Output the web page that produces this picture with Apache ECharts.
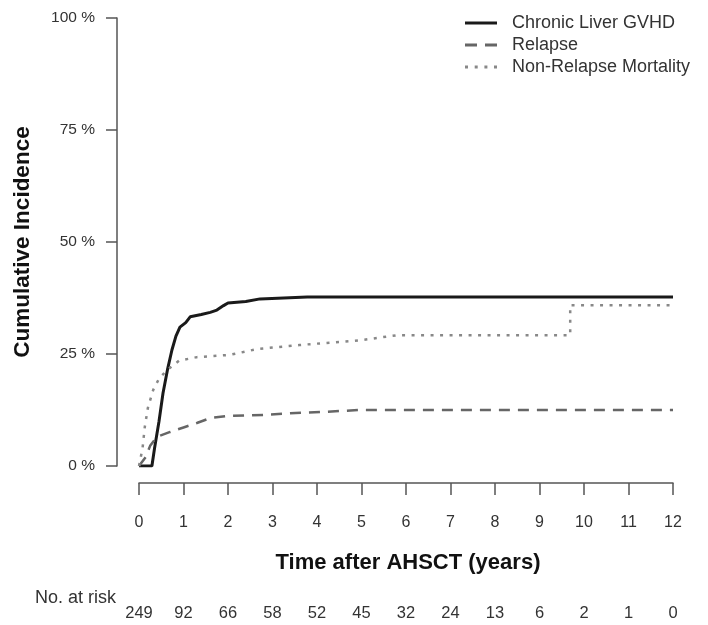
<!DOCTYPE html>
<html>
<head>
<meta charset="utf-8">
<script src="https://cdn.jsdelivr.net/npm/echarts@6/dist/echarts.min.js"></script>
<style>
  html, body { margin: 0; padding: 0; background: #fff; }
  #main { width: 708px; height: 625px; }
</style>
</head>
<body>
<div id="main"></div>
<script>
// 数据部分 (years, percent)
var gvhdTime = [0, 0.29, 0.35, 0.45, 0.54, 0.64, 0.74, 0.83, 0.92, 1.05, 1.15, 1.4, 1.6, 1.75, 1.9, 2.0, 2.4, 2.72, 3.78, 12];
var gvhdPct  = [0, 0, 4, 10, 16.3, 21.5, 25.9, 29, 31, 32, 33.3, 33.8, 34.3, 34.8, 35.8, 36.4, 36.7, 37.3, 37.7, 37.7];

var relapseTime = [0, 0.15, 0.25, 0.4, 0.7, 1.0, 1.3, 1.6, 2.04, 2.8, 3.4, 4.2, 4.97, 12];
var relapsePct  = [0, 2, 4.5, 6.5, 7.6, 8.6, 9.6, 10.7, 11.2, 11.4, 11.8, 12.1, 12.5, 12.5];

var nrmTime = [0, 0.08, 0.13, 0.2, 0.32, 0.45, 0.63, 0.9, 1.3, 2.04, 2.65, 3.6, 5.0, 5.8, 9.69, 9.69, 12];
var nrmPct  = [0, 4, 8.7, 13, 17, 19.5, 21.4, 23.5, 24.3, 24.8, 26.1, 27, 28.1, 29.2, 29.2, 35.9, 35.9];

var atRisk = [249, 92, 66, 58, 52, 45, 32, 24, 13, 6, 2, 1, 0];
var yTicks = [0, 25, 50, 75, 100];

function pairs(xs, ys) {
	var out = [];
	for (var i = 0; i < xs.length; i++) {
		out.push([xs[i], ys[i]]);
	}
	return out;
}

var font = 'Liberation Sans, Arial, sans-serif';
var axisColor = '#555';

var myChart = echarts.init(document.getElementById('main'));
var option = {
	animation : false,
	textStyle : { fontFamily : font },
	grid : { left : 139, right : 35, top : 18, bottom : 159 },
	legend : {
		orient : 'vertical',
		left : 460,
		top : 9,
		itemWidth : 32,
		itemHeight : 3,
		itemGap : 4,
		textStyle : { fontSize : 18, lineHeight : 18, color : '#333', fontFamily : font, padding : [0, 0, 0, 10] },
		data : [
			{ name : 'Chronic Liver GVHD', icon : 'rect' },
			{ name : 'Relapse', icon : 'path://M0,0h12v3h-12z M20,0h12v3h-12z' },
			{ name : 'Non-Relapse Mortality', icon : 'path://M0,0h3v3h-3z M9.7,0h3v3h-3z M19.4,0h3v3h-3z M29,0h3v3h-3z' }
		]
	},
	xAxis : [
		{
			type : 'value',
			min : 0,
			max : 12,
			interval : 1,
			position : 'bottom',
			offset : 17,
			axisLine : { onZero : false, lineStyle : { color : axisColor, width : 1.5 } },
			axisTick : { length : 12, lineStyle : { color : axisColor, width : 1.5 } },
			axisLabel : { fontSize : 16, color : '#333', margin : 32 },
			splitLine : { show : false }
		},
		{
			type : 'value',
			min : 0,
			max : 12,
			interval : 1,
			position : 'bottom',
			offset : 130,
			axisLine : { show : false, onZero : false },
			axisTick : { show : false },
			splitLine : { show : false },
			axisLabel : {
				fontSize : 16.5,
				color : '#333',
				margin : 9,
				formatter : function(v) { return atRisk[Math.round(v)]; }
			}
		}
	],
	yAxis : {
		type : 'value',
		min : 0,
		max : 100,
		interval : 25,
		offset : 22,
		axisLine : { show : true, onZero : false, lineStyle : { color : axisColor, width : 1.5 } },
		axisTick : { show : true, length : 11, lineStyle : { color : axisColor, width : 1.5 } },
		axisLabel : {
			fontSize : 15.5,
			color : '#333',
			margin : 22,
			formatter : function(v) { return yTicks.indexOf(v) >= 0 ? v + ' %' : ''; }
		},
		splitLine : { show : false }
	},
	graphic : [
		{
			type : 'text',
			x : 408,
			y : 563,
			style : { text : 'Time after AHSCT (years)', fontSize : 22, fontWeight : 'bold', fill : '#111', fontFamily : font, align : 'center', verticalAlign : 'middle' }
		},
		{
			type : 'text',
			x : 23,
			y : 242,
			rotation : Math.PI / 2,
			style : { text : 'Cumulative Incidence', fontSize : 22.5, fontWeight : 'bold', fill : '#111', fontFamily : font, align : 'center', verticalAlign : 'middle' }
		},
		{
			type : 'text',
			x : 35,
			y : 598,
			style : { text : 'No. at risk', fontSize : 18, fill : '#333', fontFamily : font, align : 'left', verticalAlign : 'middle' }
		}
	],
	series : [
		{
			name : 'Chronic Liver GVHD',
			type : 'line',
			symbol : 'none',
			data : pairs(gvhdTime, gvhdPct),
			lineStyle : { color : '#1a1a1a', width : 3 },
			itemStyle : { color : '#1a1a1a' }
		},
		{
			name : 'Relapse',
			type : 'line',
			symbol : 'none',
			data : pairs(relapseTime, relapsePct),
			lineStyle : { color : '#666', width : 2.5, type : [11, 8] },
			itemStyle : { color : '#666' }
		},
		{
			name : 'Non-Relapse Mortality',
			type : 'line',
			symbol : 'none',
			data : pairs(nrmTime, nrmPct),
			lineStyle : { color : '#888', width : 2.5, type : [3, 6.5] },
			itemStyle : { color : '#888' }
		}
	]
};
myChart.setOption(option);
</script>
</body>
</html>
